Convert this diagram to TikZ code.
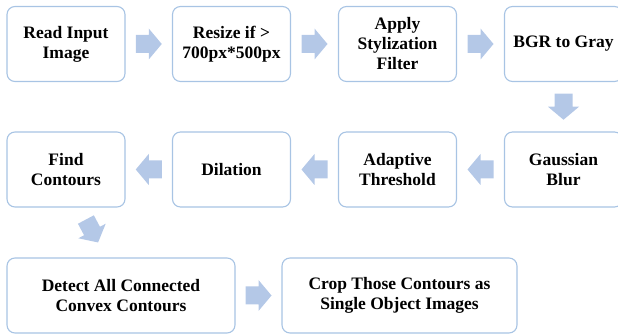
\documentclass[tikz,border=0pt]{standalone}
\usepackage{fontspec}
\setmainfont{Liberation Serif}[BoldFont={Liberation Serif Bold}]
\newfontfamily\boxfont{Liberation Serif Bold}
\usetikzlibrary{calc}
\definecolor{boxline}{RGB}{168,196,228}
\definecolor{arrowfill}{RGB}{180,200,231}
\tikzset{
  stepbox/.style={draw=boxline, line width=1.1pt, rounded corners=8pt, fill=white,
    minimum width=118pt, minimum height=75pt, inner sep=2pt, align=center,
    font=\boxfont\fontsize{17.5}{20}\selectfont, text=black},
  blockarrow/.pic={
    \fill[arrowfill] (-13,-9) -- (0,-9) -- (0,-15.5) -- (13,0) -- (0,15.5) -- (0,9) -- (-13,9) -- cycle;
  }
}
\begin{document}
\begin{tikzpicture}[x=1pt,y=-1pt]
\useasboundingbox (0,0) rectangle (618,336);
\clip (0,0) rectangle (618,336);
% row 1
\node[stepbox] (read) at (66,44) {Read Input\\Image};
\node[stepbox] (resize) at (231.5,44) {Resize if >\\700px*500px};
\node[stepbox] (styl) at (397.5,44) {Apply\\Stylization\\Filter};
\node[stepbox] (gray) at (563.5,44) {BGR to Gray};
% row 2
\node[stepbox] (find) at (66,169.5) {Find\\Contours};
\node[stepbox] (dil) at (231.5,169.5) {Dilation};
\node[stepbox] (thr) at (397.5,169.5) {Adaptive\\Threshold};
\node[stepbox] (blur) at (563.5,169.5) {Gaussian\\Blur};
% row 3
\node[stepbox, minimum width=228pt] (detect) at (121,295.5) {Detect All Connected\\Convex Contours};
\node[stepbox, minimum width=235pt] (crop) at (399.5,295.5) {Crop Those Contours as\\Single Object Images};
% arrows
\pic at ($(read.east)!0.5!(resize.west)$) {blockarrow};
\pic at ($(resize.east)!0.5!(styl.west)$) {blockarrow};
\pic at ($(styl.east)!0.5!(gray.west)$) {blockarrow};
\pic[rotate=-90] at ($(gray.south)!0.5!(blur.north)$) {blockarrow};
\pic[rotate=180] at ($(blur.west)!0.5!(thr.east)$) {blockarrow};
\pic[rotate=180] at ($(thr.west)!0.5!(dil.east)$) {blockarrow};
\pic[rotate=180] at ($(dil.west)!0.5!(find.east)$) {blockarrow};
\pic[rotate=-62] at (92,231) {blockarrow};
\pic at ($(detect.east)!0.5!(crop.west)$) {blockarrow};
\end{tikzpicture}
\end{document}
